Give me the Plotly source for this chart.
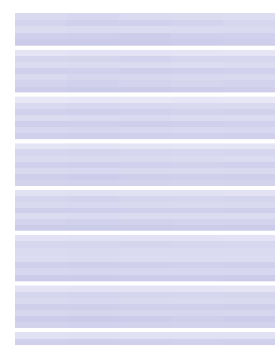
import plotly.graph_objects as go
from plotly.subplots import make_subplots

columns = ["A", "B", "C", "D", "E"]
rows = ["r1", "r2", "r3", "r4", "r5", "r6", "r7"]

group1 = [[0.45, 0.48, 0.42, 0.40, 0.38], [0.55, 0.60, 0.58, 0.55, 0.50], [0.40, 0.42, 0.40, 0.42, 0.45],
          [0.60, 0.62, 0.65, 0.60, 0.58], [0.66, 0.68, 0.66, 0.64, 0.62]]
group2 = [[0.25, 0.28, 0.26, 0.25, 0.24], [0.50, 0.52, 0.55, 0.50, 0.48], [0.40, 0.42, 0.40, 0.38, 0.40],
          [0.60, 0.58, 0.62, 0.60, 0.58], [0.45, 0.50, 0.48, 0.46, 0.45], [0.55, 0.58, 0.55, 0.52, 0.55],
          [0.65, 0.68, 0.66, 0.65, 0.62]]
group3 = [[0.20, 0.22, 0.20, 0.22, 0.20], [0.45, 0.48, 0.46, 0.45, 0.44], [0.58, 0.60, 0.58, 0.55, 0.56],
          [0.40, 0.42, 0.44, 0.40, 0.40], [0.62, 0.60, 0.62, 0.60, 0.58], [0.48, 0.50, 0.48, 0.46, 0.48],
          [0.60, 0.62, 0.60, 0.58, 0.60]]
group4 = [[0.25, 0.26, 0.25, 0.24, 0.25], [0.50, 0.52, 0.50, 0.48, 0.50], [0.42, 0.45, 0.44, 0.42, 0.40],
          [0.58, 0.60, 0.58, 0.56, 0.58], [0.45, 0.46, 0.45, 0.44, 0.45], [0.62, 0.64, 0.62, 0.60, 0.62],
          [0.55, 0.56, 0.55, 0.54, 0.55]]
group5 = [[0.30, 0.32, 0.30, 0.30, 0.28], [0.52, 0.55, 0.52, 0.50, 0.52], [0.45, 0.46, 0.45, 0.44, 0.45],
          [0.62, 0.62, 0.60, 0.60, 0.62], [0.40, 0.42, 0.40, 0.40, 0.40], [0.55, 0.58, 0.56, 0.55, 0.55],
          [0.66, 0.68, 0.66, 0.64, 0.66]]
group6 = [[0.28, 0.30, 0.28, 0.28, 0.27], [0.50, 0.50, 0.52, 0.50, 0.48], [0.42, 0.44, 0.42, 0.42, 0.42],
          [0.40, 0.42, 0.40, 0.40, 0.40], [0.60, 0.62, 0.60, 0.58, 0.60], [0.48, 0.50, 0.48, 0.48, 0.48],
          [0.66, 0.66, 0.65, 0.64, 0.66]]
group7 = [[0.26, 0.28, 0.26, 0.26, 0.25], [0.52, 0.54, 0.52, 0.50, 0.52], [0.44, 0.46, 0.44, 0.44, 0.44],
          [0.62, 0.62, 0.60, 0.60, 0.62], [0.50, 0.52, 0.50, 0.50, 0.50], [0.64, 0.66, 0.64, 0.62, 0.64],
          [0.56, 0.58, 0.56, 0.55, 0.56]]
group8 = [[0.30, 0.32, 0.30, 0.30, 0.30], [0.60, 0.62, 0.60, 0.58, 0.60]]

groups = [group1, group2, group3, group4, group5, group6, group7, group8]
colorscale = [[0.0, "#f2f2fb"], [0.5, "#d6d6ef"], [1.0, "#b7b7e0"]]

fig = make_subplots(rows=len(groups), cols=1, shared_xaxes=True,
                    vertical_spacing=0.012,
                    row_heights=[33, 43, 43, 43, 41, 47, 43, 13])

for i, g in enumerate(groups):
    fig.add_trace(go.Heatmap(z=g, x=columns, y=rows[:len(g)], colorscale=colorscale,
                             zmin=0.0, zmax=1.0, showscale=False, hoverinfo="skip"),
                  row=i + 1, col=1)
    fig.update_yaxes(autorange="reversed", showticklabels=False, showgrid=False,
                     zeroline=False, row=i + 1, col=1)
    fig.update_xaxes(showticklabels=False, showgrid=False, zeroline=False, row=i + 1, col=1)

fig.update_layout(width=275, height=359, margin=dict(l=15, r=0, t=13, b=14),
                  paper_bgcolor="white", plot_bgcolor="white", showlegend=False)

fig.write_html("out.html", config={"displayModeBar": False},
               post_script="document.body.style.margin='0';document.body.style.overflow='hidden';")
